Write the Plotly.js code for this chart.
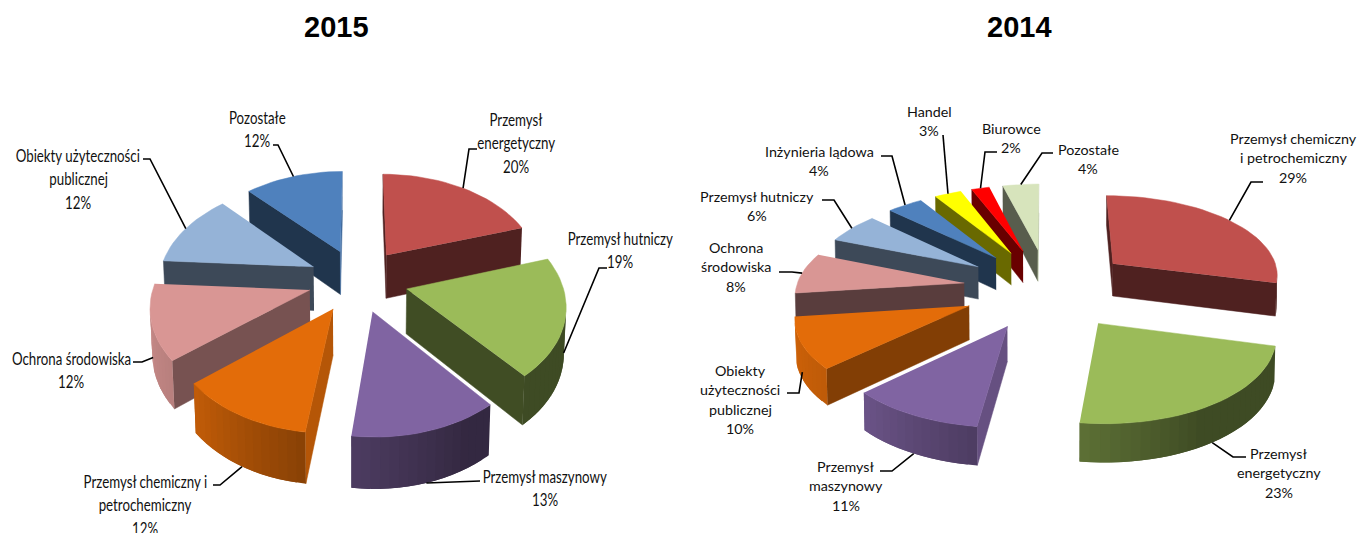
<!DOCTYPE html>
<html><head><meta charset="utf-8">
<script src="https://cdn.plot.ly/plotly-3.0.1.min.js"></script>
<style>html,body{margin:0;padding:0;background:#fff;overflow:hidden}#c{width:1361px;height:533px}</style>
</head><body><div id="c"></div>
<script>
// ---------- data ----------
const categories2015 = ["Przemysł energetyczny","Przemysł hutniczy","Przemysł maszynowy","Przemysł chemiczny i petrochemiczny","Ochrona środowiska","Obiekty użyteczności publicznej","Pozostałe"];
const values2015 = [20,19,13,12,12,12,12];
const categories2014 = ["Przemysł chemiczny i petrochemiczny","Przemysł energetyczny","Przemysł maszynowy","Obiekty użyteczności publicznej","Ochrona środowiska","Przemysł hutniczy","Inżynieria lądowa","Handel","Biurowce","Pozostałe"];
const values2014 = [29,23,11,10,8,6,4,3,2,4];
const colors2015 = ["#C0504D","#9BBB59","#8064A2","#E36C09","#D99694","#95B3D7","#4F81BD"];
const colors2014 = ["#C0504D","#9BBB59","#8064A2","#E36C09","#D99694","#95B3D7","#4F81BD","#FFFF00","#FF0000","#D7E4BC"];
// label line breaks, per category
const lines2015 = [["Przemysł","energetyczny"],["Przemysł hutniczy"],["Przemysł maszynowy"],["Przemysł chemiczny i","petrochemiczny"],["Ochrona środowiska"],["Obiekty użyteczności","publicznej"],["Pozostałe"]];
const lines2014 = [["Przemysł chemiczny","i petrochemiczny"],["Przemysł","energetyczny"],["Przemysł","maszynowy"],["Obiekty","użyteczności","publicznej"],["Ochrona","środowiska"],["Przemysł hutniczy"],["Inżynieria lądowa"],["Handel"],["Biurowce"],["Pozostałe"]];
// ---------- layout of each pie ----------
const pie2015 = {cx:358,cy:280,R:155,e:50,h:58,tilt:39.4,f:873,font:"Lato",size:17.5,lh:23.7,squeeze:.76,
 lab:[[516,119,[477,149],[469,149],0],[620,238,[607,268],[599,268],.75],[545,476,[480,481],[480,481],1],[145,481,[213,485],[220,485],1],[71,358,[133,362],[142,362],.75],[78,155,[143,159],[150,159],0],[257,117,[273,145],[278,145],0]]};
const pie2014 = {cx:1048,cy:288,R:168,e:85,h:38,tilt:28.7,f:1333,font:"Lato",size:14.3,lh:19.5,squeeze:1,
 lab:[[1293,138,[1263,182],[1251,182],0],[1279,453,[1246,457],[1233,457],1],[846,466,[880,471],[892,471],1],[740,370,[787,393],[799,393],.8],[736,247,[779,272],[792,272],0],[757,196,[822,200],[834,200],0],[819,151,[881,156],[892,156],0],[929,111,[943,135],[943,135],0],[1011,128,[997,152],[985,152],0],[1088,149,[1053,153],[1042,153],0]]};

function lerpTable(t,v){ if(v<=t[0][0])return t[0][1]; for(let i=1;i<t.length;i++) if(v<=t[i][0]) return t[i-1][1]+(t[i][1]-t[i-1][1])*(v-t[i-1][0])/(t[i][0]-t[i-1][0]); return t[t.length-1][1]; }
const wallShade=[[150,.40],[187,.6],[227,.84],[262,.92],[300,1]];
const cutShade=[[90,.84],[137,.57],[160,.41]];
function shade(hex,f){ const n=parseInt(hex.slice(1),16); return "rgb("+[(n>>16)&255,(n>>8)&255,n&255].map(c=>Math.round(c*f)).join(",")+")"; }
const traces=[], annotations=[], squeezeFlags=[];
function poly(pts,color,edge){ traces.push({type:"scatter",mode:"lines",x:pts.map(p=>p[0]),y:pts.map(p=>p[1]),fill:"toself",fillcolor:color,line:{color:color,width:edge},hoverinfo:"skip",showlegend:false}); }
function area(p){ let s=0; for(let i=0;i<p.length;i++){const a=p[i],b=p[(i+1)%p.length]; s+=a[0]*b[1]-b[0]*a[1];} return s; }

function buildPie(P,values,colors,lines){
  const tot=values.reduce((a,b)=>a+b,0), t=P.tilt*Math.PI/180, st=Math.sin(t), ct=Math.cos(t);
  const proj=(X,Y,Z)=>{ const yp=Y*st+Z*ct, d=Y*ct-.25*Z*st, s=P.f/(P.f+d); return [P.cx+X*s,P.cy-yp*s]; };
  let acc=0; const slices=values.map((v,i)=>{ const a0=acc/tot*360; acc+=v; const a1=acc/tot*360; const m=(a0+a1)/2*Math.PI/180;
    return {i,a0,a1,m,ox:P.e*Math.sin(m),oy:P.e*Math.cos(m)}; });
  const pt=(s,a,r,z)=>{const q=a*Math.PI/180; return proj(s.ox+r*Math.sin(q),s.oy+r*Math.cos(q),z);};
  [...slices].sort((a,b)=>(b.oy+P.R*.5*Math.cos(b.m))-(a.oy+P.R*.5*Math.cos(a.m))).forEach(s=>{
    const col=colors[s.i], n=Math.max(2,Math.ceil((s.a1-s.a0)/3)), as=[];
    for(let k=0;k<=n;k++) as.push(s.a0+(s.a1-s.a0)*k/n);
    // cut faces
    const cut=(a,dir)=>{ const A=[pt(s,a,0,0),pt(s,a,P.R,0),pt(s,a,P.R,-P.h),pt(s,a,0,-P.h)];
      const q=dir>0?A:[A[1],A[0],A[3],A[2]];
      if(area(q)<0) poly(q,shade(col,lerpTable(cutShade,(a+dir*-90+360)%360)),.5); };
    cut(s.a0,1); cut(s.a1,-1);
    // outer wall: overlapping strips so no seams show
    for(let k=0;k<n;k++){ const e=as[Math.min(k+2,n)];
      const arc=[]; for(let u=as[k];u<e;u+=.75) arc.push(u); arc.push(e);
      const q=[...arc.map(a=>pt(s,a,P.R,0)),...arc.slice().reverse().map(a=>pt(s,a,P.R,-P.h))];
      const test=[pt(s,as[k],P.R,0),pt(s,as[k+1],P.R,0),pt(s,as[k+1],P.R,-P.h),pt(s,as[k],P.R,-P.h)];
      if(area(test)<0) poly(q,shade(col,lerpTable(wallShade,(as[k]+as[k+1])/2)),0); }
    // top
    poly([pt(s,0,0,0),...as.map(a=>pt(s,a,P.R,0))],col,.5);
  });
  // labels and leader lines
  slices.forEach(s=>{ const L=P.lab[s.i], all=[...lines[s.i],values[s.i]+"%"];
    all.forEach((tx,j)=>{annotations.push({xref:"x",yref:"y",x:L[0],y:L[1]+j*P.lh,text:tx,showarrow:false,xanchor:"center",yanchor:"middle",font:{family:P.font,size:P.size,color:"#111"}}); squeezeFlags.push(P.squeeze);});
    const end=pt(s,s.m*180/Math.PI,P.R,-P.h*L[4]);
    traces.push({type:"scatter",mode:"lines",x:[L[2][0],L[3][0],end[0]],y:[L[2][1],L[3][1],end[1]],line:{color:"#000",width:1.6},hoverinfo:"skip",showlegend:false});
  });
}
buildPie(pie2015,values2015,colors2015,lines2015);
buildPie(pie2014,values2014,colors2014,lines2014);
[["2015",336],["2014",1019]].forEach(d=>{annotations.push({xref:"x",yref:"y",x:d[1],y:27,text:"<b>"+d[0]+"</b>",showarrow:false,xanchor:"center",yanchor:"middle",font:{family:"'Liberation Sans'",size:29,color:"#000"}}); squeezeFlags.push(1);});
Plotly.newPlot("c",traces,{width:1361,height:533,margin:{l:0,r:0,t:0,b:0},paper_bgcolor:"#fff",plot_bgcolor:"#fff",showlegend:false,annotations,
 xaxis:{range:[0,1361],visible:false,fixedrange:true},yaxis:{range:[533,0],visible:false,fixedrange:true}},{displayModeBar:false,staticPlot:true}).then(()=>{
  // the 2015 labels are set in a condensed face: narrow the real text around its own centre
  document.querySelectorAll("#c .annotation").forEach(g=>{ const f=squeezeFlags[+g.getAttribute("data-index")]; if(f===1) return;
    const tx=g.querySelector("text"); if(!tx) return; const b=tx.getBBox(), c=b.x+b.width/2;
    tx.setAttribute("transform","translate("+c+",0) scale("+f+",1) translate("+(-c)+",0)"); });
 });
</script></body></html>
